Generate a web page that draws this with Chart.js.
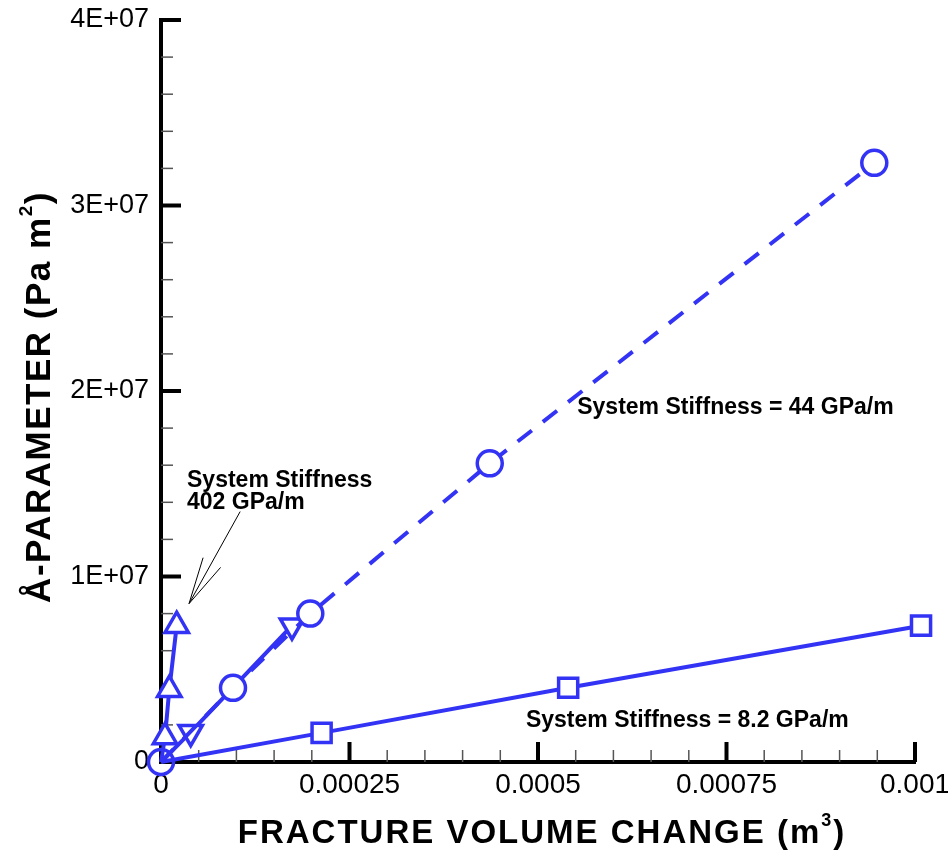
<!DOCTYPE html>
<html>
<head>
<meta charset="utf-8">
<script src="https://cdn.jsdelivr.net/npm/chart.js@4.4.0/dist/chart.umd.min.js"></script>
<style>
html, body { margin: 0; padding: 0; background: #fff; }
#wrap { width: 948px; height: 857px; }
</style>
</head>
<body>
<div id="wrap"><canvas id="myChart" width="948" height="857"></canvas></div>
<script>
// values: fracture volume change (m3) vs A-parameter (Pa m2)
var squareX = [0, 0.000213, 0.00054, 0.001008];
var squareY = [0, 1.57e6, 4.0e6, 7.35e6];

var circleX = [0, 0.0000955, 0.000198, 0.000436, 0.000946];
var circleY = [0, 4.0e6, 8.0e6, 1.61e7, 3.23e7];

var triDownX = [0, 0.0000394, 0.0001737];
var triDownY = [0, 1.61e6, 7.35e6];

var triUpX = [0, 0.0000053, 0.000011, 0.0000208];
var triUpY = [0, 1.35e6, 3.9e6, 7.35e6];

var xTickLabels = ['0', '0.00025', '0.0005', '0.00075', '0.001'];
var yTickLabels = ['0', '1E+07', '2E+07', '3E+07', '4E+07'];

var blue = '#3333f5';
var fontFamily = '"Liberation Sans", Arial, sans-serif';

function pairs(xs, ys) {
    var pts = [];
    for (var i = 0; i < xs.length; i++) {
        pts.push({ x: xs[i], y: ys[i] });
    }
    return pts;
}

// hide the marker on the shared origin point, the circle sits there
function markerSize(r) {
    return function (ctx) { return ctx.dataIndex === 0 ? 0 : r; };
}

// markers cover the line behind them, except at the origin where the axes show through
function markerFill(ctx) {
    return ctx.dataIndex === 0 ? 'rgba(0,0,0,0)' : '#fff';
}

function series(xs, ys, style, radius, rotation, dash) {
    return {
        data: pairs(xs, ys),
        showLine: true,
        fill: false,
        clip: false,
        borderColor: blue,
        borderWidth: 4,
        borderDash: dash || [],
        pointStyle: style,
        pointRotation: rotation || 0,
        pointRadius: radius,
        pointBorderWidth: 3.5,
        pointBorderColor: blue,
        pointBackgroundColor: markerFill
    };
}

// text and arrow placed in data coordinates
var notes = [
    { x: 0.0000345, y: 1.484e7, lines: ['System Stiffness', '402 GPa/m'] },
    { x: 0.000552, y: 1.878e7, lines: ['System Stiffness = 44 GPa/m'] },
    { x: 0.000484, y: 1.91e6, lines: ['System Stiffness = 8.2 GPa/m'] }
];
var arrowTail = { x: 0.000105, y: 1.35e7 };
var arrowTip = { x: 0.0000372, y: 8.54e6 };

var decorations = {
    id: 'decorations',
    beforeDatasetsDraw: function (chart) {
        var ctx = chart.ctx, xs = chart.scales.x, ys = chart.scales.y;
        ctx.save();
        // inward tick marks, major and minor
        for (var i = 0; i <= 20; i++) {
            var px = xs.getPixelForValue(i * 0.00005);
            var major = i % 5 === 0;
            ctx.beginPath();
            ctx.lineWidth = major ? 4 : 1.5;
            ctx.strokeStyle = major ? '#000' : '#555';
            ctx.moveTo(px, ys.bottom);
            ctx.lineTo(px, ys.bottom - (major ? 20 : 12));
            ctx.stroke();
        }
        for (var j = 0; j <= 20; j++) {
            var py = ys.getPixelForValue(j * 2e6);
            var majorY = j % 5 === 0;
            ctx.beginPath();
            ctx.lineWidth = majorY ? 4 : 1.5;
            ctx.strokeStyle = majorY ? '#000' : '#555';
            ctx.moveTo(xs.left, py);
            ctx.lineTo(xs.left + (majorY ? 20 : 12), py);
            ctx.stroke();
        }
        ctx.restore();
    },
    afterDraw: function (chart) {
        var ctx = chart.ctx, xs = chart.scales.x, ys = chart.scales.y;
        ctx.save();
        ctx.fillStyle = '#000';

        // annotations
        ctx.font = 'bold 23px ' + fontFamily;
        ctx.textAlign = 'left';
        ctx.textBaseline = 'alphabetic';
        notes.forEach(function (n) {
            var nx = xs.getPixelForValue(n.x), ny = ys.getPixelForValue(n.y);
            n.lines.forEach(function (line, k) {
                ctx.fillText(line, nx, ny + k * 22.5);
            });
        });

        // arrow
        var tx = xs.getPixelForValue(arrowTail.x), ty = ys.getPixelForValue(arrowTail.y);
        var hx = xs.getPixelForValue(arrowTip.x), hy = ys.getPixelForValue(arrowTip.y);
        var ang = Math.atan2(ty - hy, tx - hx);
        ctx.strokeStyle = '#000';
        ctx.lineWidth = 1;
        ctx.beginPath();
        ctx.moveTo(tx, ty);
        ctx.lineTo(hx, hy);
        [-0.21, 0.21].forEach(function (d) {
            ctx.moveTo(hx, hy);
            ctx.lineTo(hx + 48 * Math.cos(ang + d), hy + 48 * Math.sin(ang + d));
        });
        ctx.stroke();

        // x axis title with superscript
        drawTitle(ctx, 'FRACTURE VOLUME CHANGE (m', '3', ')', 33, '2px', (xs.left + xs.right) / 2 + 4, 843, 0);
        // y axis title, rotated
        drawTitle(ctx, '\u00C5-PARAMETER (Pa m', '2', ')', 35, '1.5px', 50, 397, -Math.PI / 2);

        ctx.restore();
    }
};

function drawTitle(ctx, main, sup, tail, size, spacing, cx, cy, rot) {
    ctx.save();
    ctx.translate(cx, cy);
    ctx.rotate(rot);
    ctx.letterSpacing = spacing;
    ctx.textAlign = 'left';
    ctx.textBaseline = 'alphabetic';
    var big = 'bold ' + size + 'px ' + fontFamily;
    var small = 'bold ' + Math.round(size * 0.55) + 'px ' + fontFamily;
    ctx.font = big;
    var w1 = ctx.measureText(main).width;
    var w3 = ctx.measureText(tail).width;
    ctx.font = small;
    var w2 = ctx.measureText(sup).width;
    var x0 = -(w1 + w2 + w3) / 2;
    ctx.font = big;
    ctx.fillText(main, x0, 0);
    ctx.font = small;
    ctx.fillText(sup, x0 + w1, -size * 0.52);
    ctx.font = big;
    ctx.fillText(tail, x0 + w1 + w2, 0);
    ctx.restore();
}

var chart = new Chart(document.getElementById('myChart'), {
    type: 'scatter',
    data: {
        datasets: [
            series(squareX, squareY, 'rect', markerSize(13.5)),
            series(circleX, circleY, 'circle', 12.5, 0, [18, 14]),
            series(triDownX, triDownY, 'triangle', markerSize(13.5), 180),
            series(triUpX, triUpY, 'triangle', markerSize(13.5), 0)
        ]
    },
    options: {
        responsive: false,
        animation: false,
        devicePixelRatio: 1,
        layout: { padding: { left: 0, right: 33, top: 20, bottom: 0 } },
        plugins: {
            legend: { display: false },
            tooltip: { enabled: false }
        },
        scales: {
            x: {
                type: 'linear',
                min: 0,
                max: 0.001,
                grid: { display: false, drawTicks: false },
                border: { display: true, color: '#000', width: 4 },
                ticks: {
                    stepSize: 0.00025,
                    autoSkip: false,
                    maxRotation: 0,
                    padding: 6,
                    color: '#000',
                    font: { family: fontFamily, size: 28 },
                    callback: function (value, index) { return xTickLabels[index]; }
                },
                afterFit: function (scale) {
                    scale.height = 95;
                    scale.paddingLeft = 0;
                    scale.paddingRight = 0;
                }
            },
            y: {
                type: 'linear',
                min: 0,
                max: 4e7,
                grid: { display: false, drawTicks: false },
                border: { display: true, color: '#000', width: 4 },
                ticks: {
                    stepSize: 1e7,
                    autoSkip: false,
                    padding: 12,
                    color: '#000',
                    font: { family: fontFamily, size: 27 },
                    callback: function (value, index) { return yTickLabels[index]; }
                },
                afterFit: function (scale) {
                    scale.width = 161;
                    scale.paddingTop = 0;
                    scale.paddingBottom = 0;
                }
            }
        }
    },
    plugins: [decorations]
});
</script>
</body>
</html>
